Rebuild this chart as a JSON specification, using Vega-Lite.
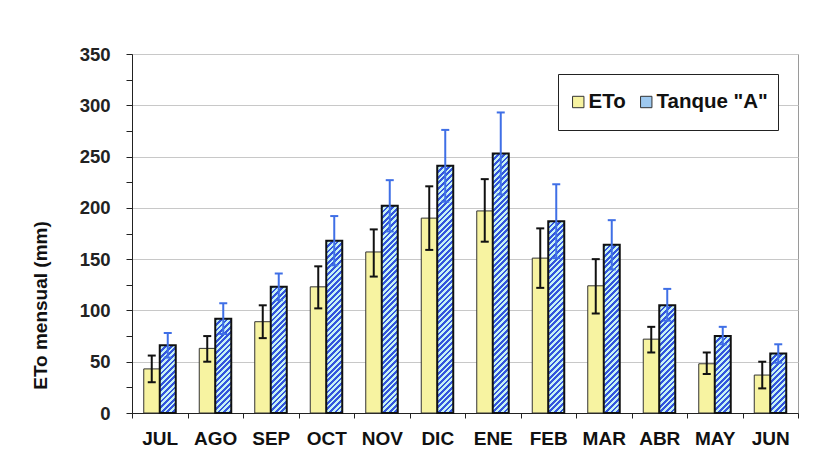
{
  "$schema": "https://vega.github.io/schema/vega-lite/v6.json",
  "width": 666,
  "height": 359,
  "autosize": {"type": "none"},
  "padding": {"left": 132, "top": 54, "right": 40, "bottom": 47},
  "background": "white",
  "config": {
    "font": "Liberation Sans",
    "view": {"stroke": "#9a9a9a", "strokeWidth": 1}
  },
  "data": {
    "values": [
      {"mes": "JUL", "serie": "ETo", "mm": 43, "lo": 30, "hi": 56},
      {"mes": "JUL", "serie": "Tanque \"A\"", "mm": 66, "lo": 54, "hi": 78},
      {"mes": "AGO", "serie": "ETo", "mm": 63, "lo": 50, "hi": 75},
      {"mes": "AGO", "serie": "Tanque \"A\"", "mm": 92, "lo": 77, "hi": 107},
      {"mes": "SEP", "serie": "ETo", "mm": 89, "lo": 73, "hi": 105},
      {"mes": "SEP", "serie": "Tanque \"A\"", "mm": 123, "lo": 110, "hi": 136},
      {"mes": "OCT", "serie": "ETo", "mm": 123, "lo": 102, "hi": 143},
      {"mes": "OCT", "serie": "Tanque \"A\"", "mm": 168, "lo": 144, "hi": 192},
      {"mes": "NOV", "serie": "ETo", "mm": 157, "lo": 133, "hi": 179},
      {"mes": "NOV", "serie": "Tanque \"A\"", "mm": 202, "lo": 177, "hi": 227},
      {"mes": "DIC", "serie": "ETo", "mm": 190, "lo": 159, "hi": 221},
      {"mes": "DIC", "serie": "Tanque \"A\"", "mm": 241, "lo": 206, "hi": 276},
      {"mes": "ENE", "serie": "ETo", "mm": 197, "lo": 167, "hi": 228},
      {"mes": "ENE", "serie": "Tanque \"A\"", "mm": 253, "lo": 213, "hi": 293},
      {"mes": "FEB", "serie": "ETo", "mm": 151, "lo": 122, "hi": 180},
      {"mes": "FEB", "serie": "Tanque \"A\"", "mm": 187, "lo": 151, "hi": 223},
      {"mes": "MAR", "serie": "ETo", "mm": 124, "lo": 97, "hi": 150},
      {"mes": "MAR", "serie": "Tanque \"A\"", "mm": 164, "lo": 140, "hi": 188},
      {"mes": "ABR", "serie": "ETo", "mm": 72, "lo": 59, "hi": 84},
      {"mes": "ABR", "serie": "Tanque \"A\"", "mm": 105, "lo": 90, "hi": 121},
      {"mes": "MAY", "serie": "ETo", "mm": 48, "lo": 38, "hi": 59},
      {"mes": "MAY", "serie": "Tanque \"A\"", "mm": 75, "lo": 67, "hi": 84},
      {"mes": "JUN", "serie": "ETo", "mm": 37, "lo": 24, "hi": 50},
      {"mes": "JUN", "serie": "Tanque \"A\"", "mm": 58, "lo": 49, "hi": 67}
    ]
  },
  "encoding": {
    "x": {
      "field": "mes",
      "type": "nominal",
      "sort": null,
      "title": null,
      "scale": {"paddingInner": 0, "paddingOuter": 0},
      "axis": {
        "labelAngle": 0,
        "labelFont": "Liberation Sans",
        "labelFontWeight": "bold",
        "labelFontSize": 19,
        "labelColor": "#111",
        "labelPadding": 11,
        "tickBand": "extent",
        "tickSize": 5,
        "tickColor": "#222",
        "domainColor": "#222",
        "grid": false
      }
    },
    "y": {
      "field": "mm",
      "type": "quantitative",
      "title": "ETo mensual  (mm)",
      "scale": {"domain": [0, 350], "nice": false, "zero": true},
      "axis": {
        "values": [0, 25, 50, 75, 100, 125, 150, 175, 200, 225, 250, 275, 300, 325, 350],
        "labelExpr": "datum.value % 50 === 0 ? datum.label : ''",
        "labelFont": "Liberation Sans",
        "labelFontWeight": "bold",
        "labelFontSize": 18.5,
        "labelColor": "#222",
        "labelPadding": 16,
        "tickSize": 6,
        "tickColor": "#222",
        "domainColor": "#222",
        "grid": true,
        "gridColor": "#c8c8c8",
        "gridWidth": 1,
        "gridOpacity": {"condition": {"test": "datum.value % 50 !== 0 || datum.value === 0", "value": 0}, "value": 1},
        "titleFont": "Liberation Sans",
        "titleFontWeight": "bold",
        "titleFontSize": 19,
        "titleColor": "#111",
        "titleX": -82,
        "titleY": 251
      }
    }
  },
  "layer": [
    {
      "transform": [{"filter": "datum.serie === 'ETo'"}],
      "mark": {"type": "bar", "size": 16, "xOffset": -8, "stroke": "#333", "strokeWidth": 1, "opacity": 1},
      "encoding": {
        "fill": {
          "field": "serie",
          "type": "nominal",
          "scale": {"domain": ["ETo", "Tanque \"A\""], "range": ["#f7f3a1", "#9ec9f0"]},
          "legend": {
            "title": null,
            "orient": "top-right",
            "offset": 20,
            "direction": "horizontal",
            "padding": 10,
            "clipHeight": 36,
            "columnPadding": 10,
            "symbolType": "square",
            "symbolSize": 130,
            "symbolStrokeColor": "#333",
            "symbolStrokeWidth": 1,
            "labelOffset": 0,
            "labelFont": "Liberation Sans",
            "labelFontWeight": "bold",
            "labelFontSize": 20.5,
            "labelColor": "#111",
            "strokeColor": "#222",
            "fillColor": "white"
          }
        }
      }
    },
    {
      "transform": [{"filter": "datum.serie !== 'ETo'"}],
      "mark": {
        "type": "tick",
        "orient": "horizontal",
        "size": 16,
        "thickness": 264,
        "xOffset": 8,
        "yOffset": 132,
        "clip": true,
        "filled": true,
        "opacity": 1,
        "strokeWidth": 0,
        "fill": {"gradient": "linear", "x1": 0, "y1": 0, "x2": 0.06404, "y2": 1.05672, "stops": [
          {"offset":0,"color":"#35d"},{"offset":0.01,"color":"#35d"},{"offset":0.01,"color":"#c6f2f4"},{"offset":0.02,"color":"#c6f2f4"},
          {"offset":0.02,"color":"#35d"},{"offset":0.03,"color":"#35d"},{"offset":0.03,"color":"#c6f2f4"},{"offset":0.04,"color":"#c6f2f4"},
          {"offset":0.04,"color":"#35d"},{"offset":0.05,"color":"#35d"},{"offset":0.05,"color":"#c6f2f4"},{"offset":0.06,"color":"#c6f2f4"},
          {"offset":0.06,"color":"#35d"},{"offset":0.07,"color":"#35d"},{"offset":0.07,"color":"#c6f2f4"},{"offset":0.08,"color":"#c6f2f4"},
          {"offset":0.08,"color":"#35d"},{"offset":0.09,"color":"#35d"},{"offset":0.09,"color":"#c6f2f4"},{"offset":0.1,"color":"#c6f2f4"},
          {"offset":0.1,"color":"#35d"},{"offset":0.11,"color":"#35d"},{"offset":0.11,"color":"#c6f2f4"},{"offset":0.12,"color":"#c6f2f4"},
          {"offset":0.12,"color":"#35d"},{"offset":0.13,"color":"#35d"},{"offset":0.13,"color":"#c6f2f4"},{"offset":0.14,"color":"#c6f2f4"},
          {"offset":0.14,"color":"#35d"},{"offset":0.15,"color":"#35d"},{"offset":0.15,"color":"#c6f2f4"},{"offset":0.16,"color":"#c6f2f4"},
          {"offset":0.16,"color":"#35d"},{"offset":0.17,"color":"#35d"},{"offset":0.17,"color":"#c6f2f4"},{"offset":0.18,"color":"#c6f2f4"},
          {"offset":0.18,"color":"#35d"},{"offset":0.19,"color":"#35d"},{"offset":0.19,"color":"#c6f2f4"},{"offset":0.2,"color":"#c6f2f4"},
          {"offset":0.2,"color":"#35d"},{"offset":0.21,"color":"#35d"},{"offset":0.21,"color":"#c6f2f4"},{"offset":0.22,"color":"#c6f2f4"},
          {"offset":0.22,"color":"#35d"},{"offset":0.23,"color":"#35d"},{"offset":0.23,"color":"#c6f2f4"},{"offset":0.24,"color":"#c6f2f4"},
          {"offset":0.24,"color":"#35d"},{"offset":0.25,"color":"#35d"},{"offset":0.25,"color":"#c6f2f4"},{"offset":0.26,"color":"#c6f2f4"},
          {"offset":0.26,"color":"#35d"},{"offset":0.27,"color":"#35d"},{"offset":0.27,"color":"#c6f2f4"},{"offset":0.28,"color":"#c6f2f4"},
          {"offset":0.28,"color":"#35d"},{"offset":0.29,"color":"#35d"},{"offset":0.29,"color":"#c6f2f4"},{"offset":0.3,"color":"#c6f2f4"},
          {"offset":0.3,"color":"#35d"},{"offset":0.31,"color":"#35d"},{"offset":0.31,"color":"#c6f2f4"},{"offset":0.32,"color":"#c6f2f4"},
          {"offset":0.32,"color":"#35d"},{"offset":0.33,"color":"#35d"},{"offset":0.33,"color":"#c6f2f4"},{"offset":0.34,"color":"#c6f2f4"},
          {"offset":0.34,"color":"#35d"},{"offset":0.35,"color":"#35d"},{"offset":0.35,"color":"#c6f2f4"},{"offset":0.36,"color":"#c6f2f4"},
          {"offset":0.36,"color":"#35d"},{"offset":0.37,"color":"#35d"},{"offset":0.37,"color":"#c6f2f4"},{"offset":0.38,"color":"#c6f2f4"},
          {"offset":0.38,"color":"#35d"},{"offset":0.39,"color":"#35d"},{"offset":0.39,"color":"#c6f2f4"},{"offset":0.4,"color":"#c6f2f4"},
          {"offset":0.4,"color":"#35d"},{"offset":0.41,"color":"#35d"},{"offset":0.41,"color":"#c6f2f4"},{"offset":0.42,"color":"#c6f2f4"},
          {"offset":0.42,"color":"#35d"},{"offset":0.43,"color":"#35d"},{"offset":0.43,"color":"#c6f2f4"},{"offset":0.44,"color":"#c6f2f4"},
          {"offset":0.44,"color":"#35d"},{"offset":0.45,"color":"#35d"},{"offset":0.45,"color":"#c6f2f4"},{"offset":0.46,"color":"#c6f2f4"},
          {"offset":0.46,"color":"#35d"},{"offset":0.47,"color":"#35d"},{"offset":0.47,"color":"#c6f2f4"},{"offset":0.48,"color":"#c6f2f4"},
          {"offset":0.48,"color":"#35d"},{"offset":0.49,"color":"#35d"},{"offset":0.49,"color":"#c6f2f4"},{"offset":0.5,"color":"#c6f2f4"},
          {"offset":0.5,"color":"#35d"},{"offset":0.51,"color":"#35d"},{"offset":0.51,"color":"#c6f2f4"},{"offset":0.52,"color":"#c6f2f4"},
          {"offset":0.52,"color":"#35d"},{"offset":0.53,"color":"#35d"},{"offset":0.53,"color":"#c6f2f4"},{"offset":0.54,"color":"#c6f2f4"},
          {"offset":0.54,"color":"#35d"},{"offset":0.55,"color":"#35d"},{"offset":0.55,"color":"#c6f2f4"},{"offset":0.56,"color":"#c6f2f4"},
          {"offset":0.56,"color":"#35d"},{"offset":0.57,"color":"#35d"},{"offset":0.57,"color":"#c6f2f4"},{"offset":0.58,"color":"#c6f2f4"},
          {"offset":0.58,"color":"#35d"},{"offset":0.59,"color":"#35d"},{"offset":0.59,"color":"#c6f2f4"},{"offset":0.6,"color":"#c6f2f4"},
          {"offset":0.6,"color":"#35d"},{"offset":0.61,"color":"#35d"},{"offset":0.61,"color":"#c6f2f4"},{"offset":0.62,"color":"#c6f2f4"},
          {"offset":0.62,"color":"#35d"},{"offset":0.63,"color":"#35d"},{"offset":0.63,"color":"#c6f2f4"},{"offset":0.64,"color":"#c6f2f4"},
          {"offset":0.64,"color":"#35d"},{"offset":0.65,"color":"#35d"},{"offset":0.65,"color":"#c6f2f4"},{"offset":0.66,"color":"#c6f2f4"},
          {"offset":0.66,"color":"#35d"},{"offset":0.67,"color":"#35d"},{"offset":0.67,"color":"#c6f2f4"},{"offset":0.68,"color":"#c6f2f4"},
          {"offset":0.68,"color":"#35d"},{"offset":0.69,"color":"#35d"},{"offset":0.69,"color":"#c6f2f4"},{"offset":0.7,"color":"#c6f2f4"},
          {"offset":0.7,"color":"#35d"},{"offset":0.71,"color":"#35d"},{"offset":0.71,"color":"#c6f2f4"},{"offset":0.72,"color":"#c6f2f4"},
          {"offset":0.72,"color":"#35d"},{"offset":0.73,"color":"#35d"},{"offset":0.73,"color":"#c6f2f4"},{"offset":0.74,"color":"#c6f2f4"},
          {"offset":0.74,"color":"#35d"},{"offset":0.75,"color":"#35d"},{"offset":0.75,"color":"#c6f2f4"},{"offset":0.76,"color":"#c6f2f4"},
          {"offset":0.76,"color":"#35d"},{"offset":0.77,"color":"#35d"},{"offset":0.77,"color":"#c6f2f4"},{"offset":0.78,"color":"#c6f2f4"},
          {"offset":0.78,"color":"#35d"},{"offset":0.79,"color":"#35d"},{"offset":0.79,"color":"#c6f2f4"},{"offset":0.8,"color":"#c6f2f4"},
          {"offset":0.8,"color":"#35d"},{"offset":0.81,"color":"#35d"},{"offset":0.81,"color":"#c6f2f4"},{"offset":0.82,"color":"#c6f2f4"},
          {"offset":0.82,"color":"#35d"},{"offset":0.83,"color":"#35d"},{"offset":0.83,"color":"#c6f2f4"},{"offset":0.84,"color":"#c6f2f4"},
          {"offset":0.84,"color":"#35d"},{"offset":0.85,"color":"#35d"},{"offset":0.85,"color":"#c6f2f4"},{"offset":0.86,"color":"#c6f2f4"},
          {"offset":0.86,"color":"#35d"},{"offset":0.87,"color":"#35d"},{"offset":0.87,"color":"#c6f2f4"},{"offset":0.88,"color":"#c6f2f4"},
          {"offset":0.88,"color":"#35d"},{"offset":0.89,"color":"#35d"},{"offset":0.89,"color":"#c6f2f4"},{"offset":0.9,"color":"#c6f2f4"},
          {"offset":0.9,"color":"#35d"},{"offset":0.91,"color":"#35d"},{"offset":0.91,"color":"#c6f2f4"},{"offset":0.92,"color":"#c6f2f4"},
          {"offset":0.92,"color":"#35d"},{"offset":0.93,"color":"#35d"},{"offset":0.93,"color":"#c6f2f4"},{"offset":0.94,"color":"#c6f2f4"},
          {"offset":0.94,"color":"#35d"},{"offset":0.95,"color":"#35d"},{"offset":0.95,"color":"#c6f2f4"},{"offset":0.96,"color":"#c6f2f4"},
          {"offset":0.96,"color":"#35d"},{"offset":0.97,"color":"#35d"},{"offset":0.97,"color":"#c6f2f4"},{"offset":0.98,"color":"#c6f2f4"},
          {"offset":0.98,"color":"#35d"},{"offset":0.99,"color":"#35d"},{"offset":0.99,"color":"#c6f2f4"},{"offset":1,"color":"#c6f2f4"}
        ]}
      }
    },
    {
      "transform": [{"filter": "datum.serie !== 'ETo'"}],
      "mark": {"type": "bar", "size": 16, "xOffset": 8, "fill": "white", "fillOpacity": 0, "stroke": "#111", "strokeWidth": 2}
    },
    {
      "transform": [{"filter": "datum.serie === 'ETo'"}],
      "mark": {"type": "rule", "xOffset": -8, "color": "#111", "strokeWidth": 2},
      "encoding": {
        "y": {"field": "lo", "type": "quantitative", "title": "ETo mensual  (mm)"},
        "y2": {"field": "hi"}
      }
    },
    {
      "transform": [{"filter": "datum.serie !== 'ETo'"}],
      "mark": {"type": "rule", "xOffset": 8, "color": "#3f6fe6", "strokeWidth": 2},
      "encoding": {
        "y": {"field": "lo", "type": "quantitative", "title": "ETo mensual  (mm)"},
        "y2": {"field": "hi"}
      }
    },
    {
      "transform": [{"filter": "datum.serie === 'ETo'"}],
      "mark": {"type": "tick", "orient": "horizontal", "xOffset": -8, "size": 8, "thickness": 2, "color": "#111", "opacity": 1},
      "encoding": {"y": {"field": "lo", "type": "quantitative", "title": "ETo mensual  (mm)"}}
    },
    {
      "transform": [{"filter": "datum.serie === 'ETo'"}],
      "mark": {"type": "tick", "orient": "horizontal", "xOffset": -8, "size": 8, "thickness": 2, "color": "#111", "opacity": 1},
      "encoding": {"y": {"field": "hi", "type": "quantitative", "title": "ETo mensual  (mm)"}}
    },
    {
      "transform": [{"filter": "datum.serie !== 'ETo'"}],
      "mark": {"type": "tick", "orient": "horizontal", "xOffset": 8, "size": 8, "thickness": 2, "color": "#3f6fe6", "opacity": 1},
      "encoding": {"y": {"field": "lo", "type": "quantitative", "title": "ETo mensual  (mm)"}}
    },
    {
      "transform": [{"filter": "datum.serie !== 'ETo'"}],
      "mark": {"type": "tick", "orient": "horizontal", "xOffset": 8, "size": 8, "thickness": 2, "color": "#3f6fe6", "opacity": 1},
      "encoding": {"y": {"field": "hi", "type": "quantitative", "title": "ETo mensual  (mm)"}}
    }
  ]
}
